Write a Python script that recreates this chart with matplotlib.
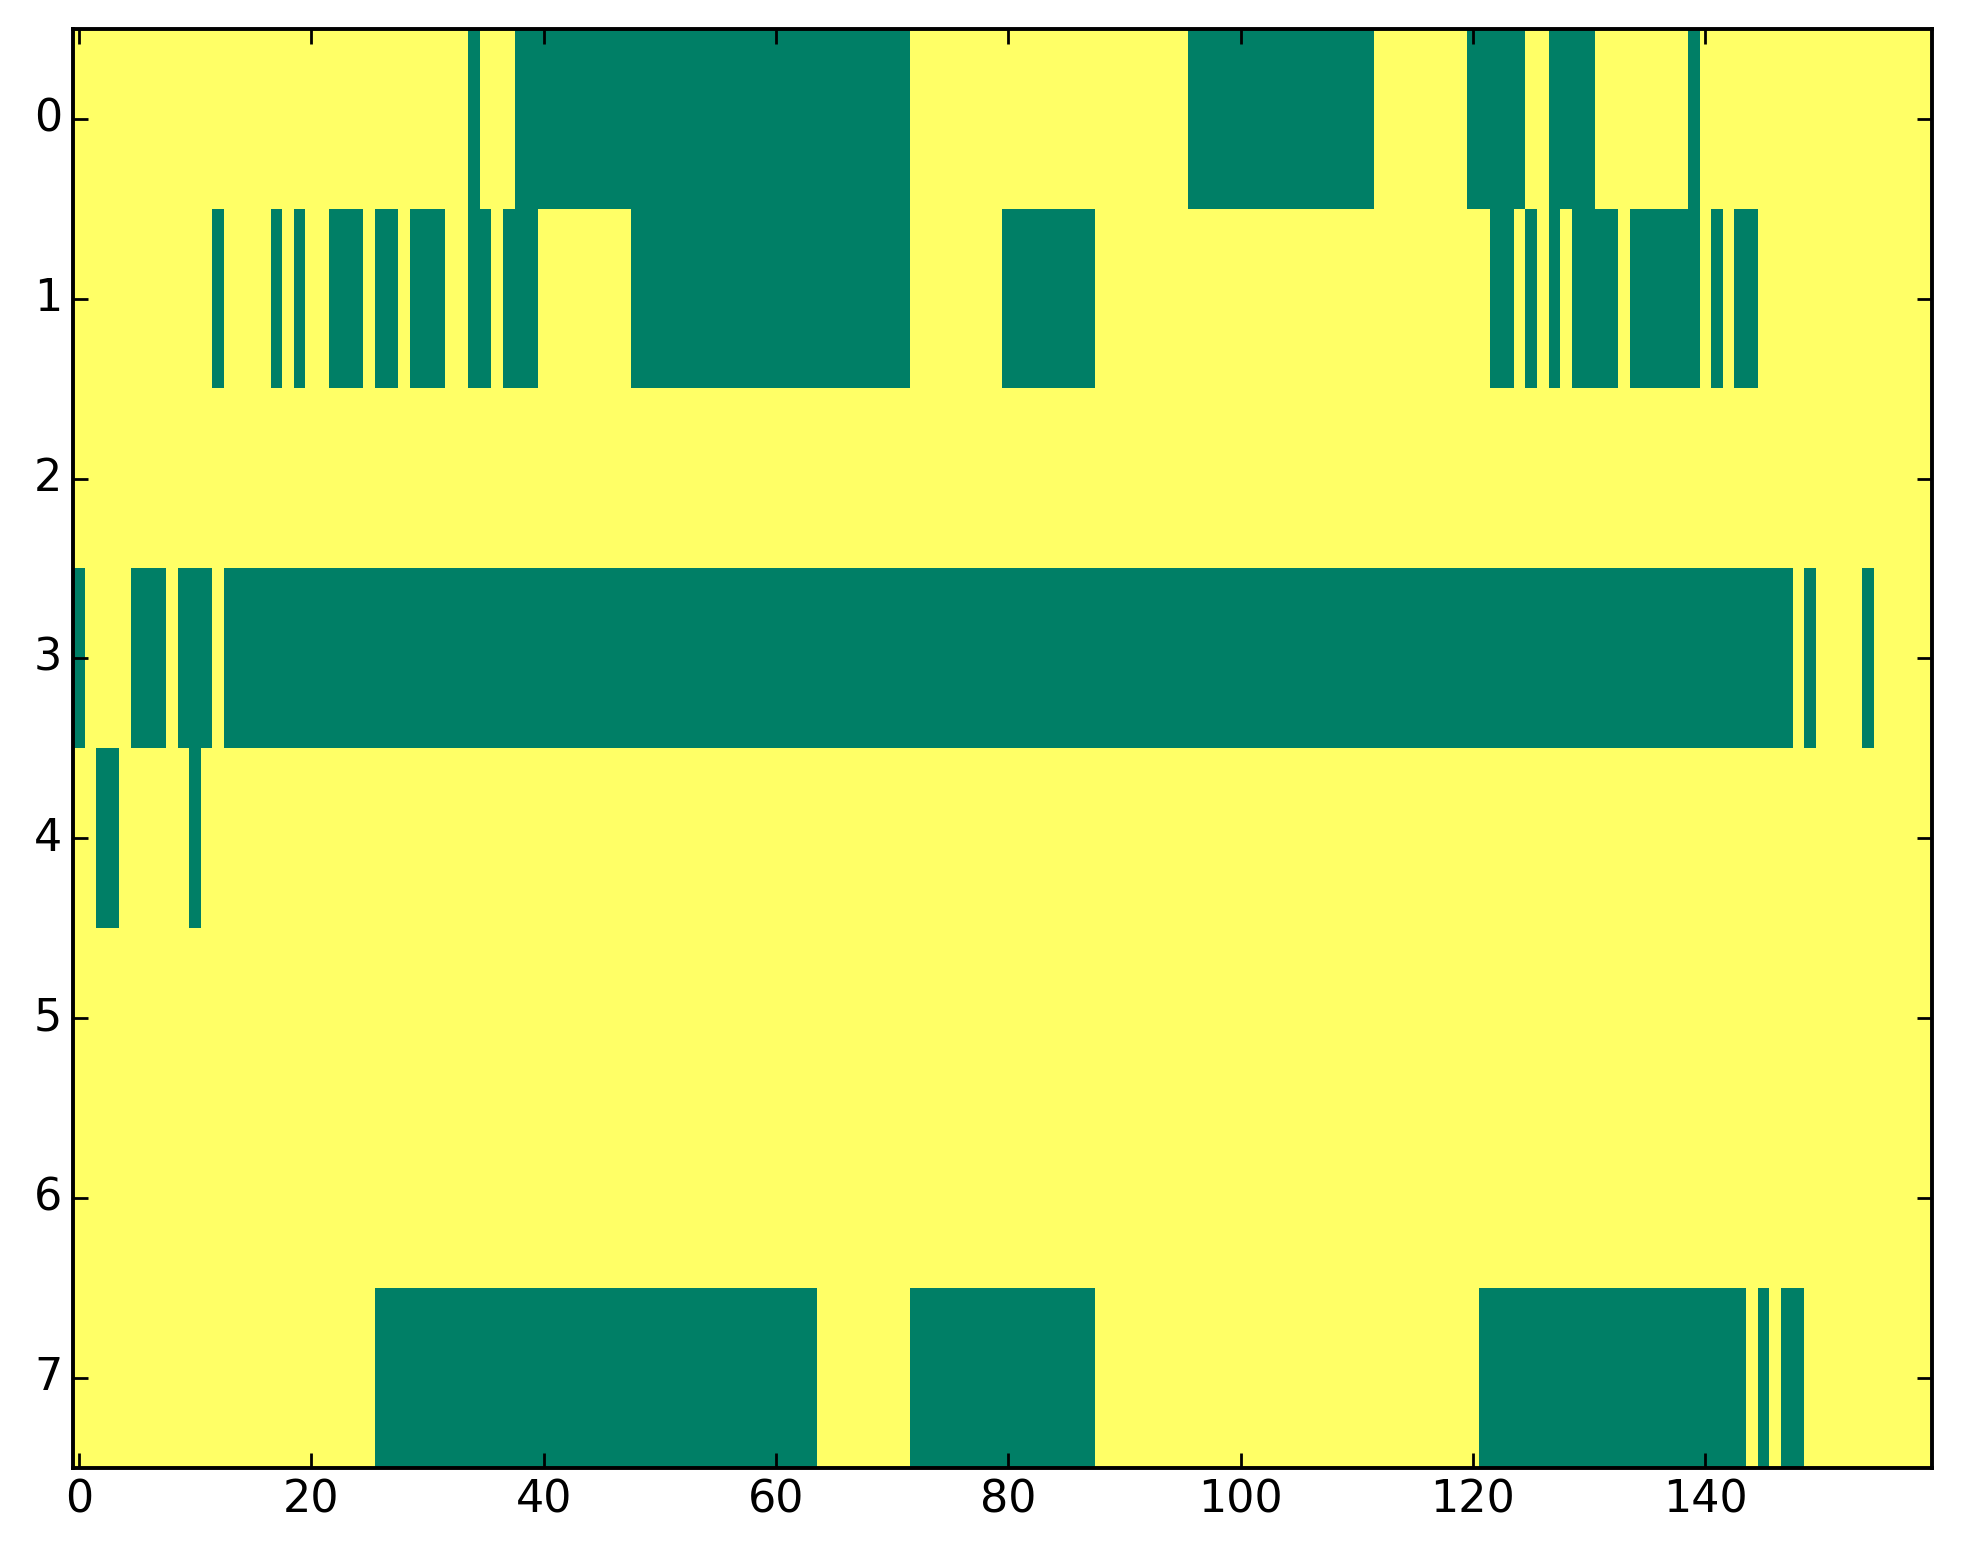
import numpy as np
import matplotlib
matplotlib.use('Agg')
import matplotlib.pyplot as plt

plt.style.use('classic')
plt.rcParams.update({
    'figure.facecolor': 'white',
    'savefig.facecolor': 'white',
    'font.family': 'DejaVu Sans',
    'axes.linewidth': 1.4,
})

N_COLS = 160

# green cells (value 0) per row, as inclusive column runs; everything else is 1
row0_runs = [(34, 34), (38, 71), (96, 111), (120, 124), (127, 130), (139, 139)]
row1_runs = [(12, 12), (17, 17), (19, 19), (22, 24), (26, 27), (29, 31),
             (34, 35), (37, 39), (48, 71), (80, 87), (122, 123), (125, 125),
             (127, 127), (129, 132), (134, 139), (141, 141), (143, 144)]
row2_runs = []
row3_runs = [(0, 0), (5, 7), (9, 11), (13, 147), (149, 149), (154, 154)]
row4_runs = [(2, 3), (10, 10)]
row5_runs = []
row6_runs = []
row7_runs = [(26, 63), (72, 87), (121, 143), (145, 145), (147, 148)]

all_runs = [row0_runs, row1_runs, row2_runs, row3_runs,
            row4_runs, row5_runs, row6_runs, row7_runs]

grid = np.ones((len(all_runs), N_COLS))
for r, runs in enumerate(all_runs):
    for a, b in runs:
        grid[r, a:b + 1] = 0

fig = plt.figure(figsize=(9.815, 7.82), dpi=200)
ax = fig.add_axes([0.0374, 0.0615, 0.9466, 0.920])
ax.imshow(grid, cmap='summer', aspect='auto', interpolation='nearest',
          vmin=0, vmax=1)
ax.set_xticks(np.arange(0, 141, 20))
ax.set_yticks(np.arange(0, 8))
ax.tick_params(labelsize=16, length=5.5, width=1.0)

fig.savefig('out.png', dpi=200)
